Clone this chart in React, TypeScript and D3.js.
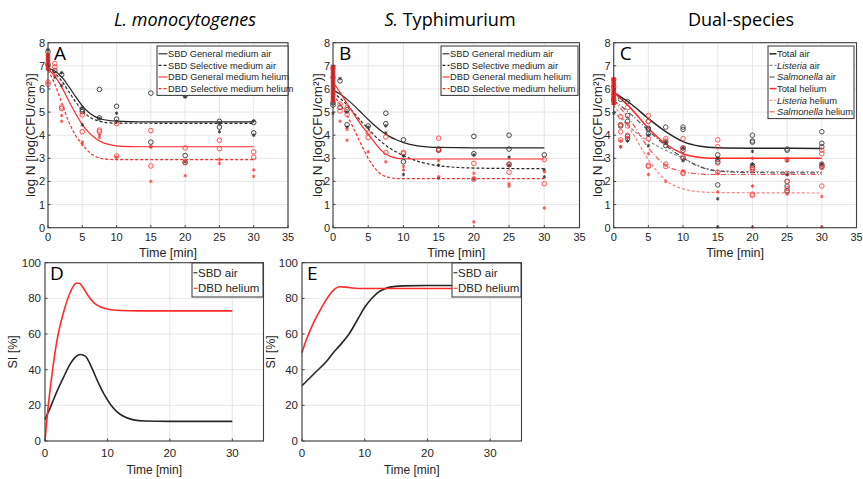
import * as d3 from "d3";

const FONT = "'Liberation Sans', Arial, sans-serif";
const TITLE_FONT = "'Open Sans', 'Noto Sans', sans-serif";
const BLACK = "#262626";
const RED = "#ff2a2a";

// ---------- A: L. monocytogenes ----------
const aSbdGenFit = [[0, 6.9], [1, 6.78], [2, 6.52], [3, 6.12], [4, 5.68], [5, 5.27], [6, 4.97], [7, 4.78], [8, 4.68], [9, 4.63], [10, 4.61], [12, 4.59], [15, 4.58], [30, 4.58]];
const aSbdSelFit = [[0, 6.85], [1, 6.68], [2, 6.35], [3, 5.9], [4, 5.45], [5, 5.07], [6, 4.8], [7, 4.65], [8, 4.57], [9, 4.53], [10, 4.52], [30, 4.51]];
const aDbdGenFit = [[0, 6.85], [1, 6.55], [2, 6.08], [3, 5.5], [4, 4.95], [5, 4.46], [6, 4.1], [7, 3.85], [8, 3.68], [9, 3.59], [10, 3.54], [12, 3.51], [15, 3.5], [30, 3.5]];
const aDbdSelFit = [[0, 6.8], [1, 6.2], [2, 5.4], [3, 4.6], [4, 4.0], [5, 3.6], [6, 3.27], [7, 3.07], [8, 2.98], [9, 2.95], [10, 2.94], [30, 2.94]];

const aSbdGen = [[0, 7.62], [0, 7.05], [1, 6.8], [2, 6.62], [5, 5.1], [5, 5.02], [7.5, 5.98], [7.5, 4.75], [10, 5.25], [10, 4.7], [15, 5.82], [15, 3.7], [20, 5.72], [20, 3.12], [20, 2.82], [25, 4.6], [25, 4.35], [30, 4.55], [30, 4.1]];
const aSbdSel = [[0, 7.7], [1, 6.5], [2, 6.7], [2, 6.15], [5, 5.2], [5, 4.45], [7.5, 4.72], [10, 4.95], [10, 4.6], [15, 3.5], [20, 5.65], [20, 2.85], [25, 4.5], [25, 4.15], [30, 4.62], [30, 4.0]];
const aDbdGen = [[0, 6.3], [0, 6.2], [1, 7.1], [1, 6.95], [2, 5.22], [2, 5.15], [5, 4.88], [5, 4.15], [7.5, 4.22], [7.5, 4.15], [10, 4.5], [10, 3.1], [15, 4.2], [15, 2.67], [20, 3.45], [20, 2.82], [25, 3.78], [25, 3.42], [30, 3.28], [30, 3.05]];
const aDbdSel = [[0, 7.3], [1, 6.6], [2, 4.85], [2, 4.6], [5, 3.6], [5, 3.7], [7.5, 4.0], [7.5, 3.9], [10, 3.05], [15, 2.0], [15, 3.5], [20, 2.25], [20, 2.9], [25, 2.95], [25, 2.78], [30, 2.5], [30, 2.22]];
const aZeroBar = [6.8, 7.55];

// ---------- B: S. Typhimurium ----------
const bSbdGenFit = [[0, 5.95], [1, 5.78], [2, 5.55], [3, 5.28], [4, 4.98], [5, 4.68], [6, 4.4], [7, 4.15], [8, 3.95], [9, 3.8], [10, 3.68], [12, 3.54], [15, 3.47], [20, 3.45], [30, 3.45]];
const bSbdSelFit = [[0, 5.85], [1, 5.6], [2, 5.3], [3, 4.95], [4, 4.6], [5, 4.28], [6, 3.95], [7, 3.68], [8, 3.45], [9, 3.27], [10, 3.12], [12, 2.88], [15, 2.68], [20, 2.58], [25, 2.56], [30, 2.55]];
const bDbdGenFit = [[0, 6.3], [1, 5.85], [2, 5.37], [3, 4.9], [4, 4.45], [5, 4.05], [6, 3.65], [7, 3.3], [8, 3.1], [9, 3.01], [10, 2.98], [12, 2.97], [30, 2.97]];
const bDbdSelFit = [[0, 5.75], [1, 5.35], [2, 4.85], [3, 4.25], [4, 3.6], [5, 3.0], [6, 2.55], [7, 2.28], [8, 2.17], [9, 2.13], [10, 2.12], [30, 2.12]];

const bSbdGen = [[0, 5.4], [0, 5.3], [1, 6.35], [1, 5.2], [2, 5.1], [2, 4.45], [5, 4.4], [7.5, 4.95], [7.5, 4.5], [10, 3.8], [10, 2.85], [15, 3.4], [15, 3.35], [20, 3.95], [20, 3.2], [25, 4.0], [25, 3.4], [25, 2.75], [30, 3.15]];
const bSbdSel = [[0, 5.5], [0, 4.95], [1, 6.45], [2, 5.0], [2, 4.35], [5, 4.35], [7.5, 4.1], [7.5, 4.4], [10, 2.3], [10, 3.1], [15, 2.7], [15, 2.15], [20, 2.1], [20, 3.15], [25, 3.05], [25, 2.7], [30, 2.5], [30, 2.2]];
const bDbdGen = [[0, 6.9], [0, 6.5], [1, 5.05], [1, 5.35], [2, 4.9], [2, 5.2], [5, 3.9], [5, 4.1], [7.5, 3.92], [7.5, 3.25], [10, 3.2], [10, 3.25], [15, 3.87], [15, 3.35], [20, 2.78], [20, 2.1], [25, 2.4], [25, 2.72], [30, 2.95], [30, 1.9]];
const bDbdSel = [[0, 6.0], [1, 4.6], [2, 3.78], [2, 4.25], [5, 3.28], [7.5, 2.85], [10, 2.5], [10, 2.65], [15, 2.2], [15, 2.9], [20, 0.25], [20, 2.15], [20, 2.35], [25, 1.8], [25, 1.9], [30, 0.85], [30, 2.42]];
const bZeroBar = [5.4, 7.05];

// ---------- C: dual-species ----------
const cTotalAirFit = [[0, 5.85], [2.5, 5.35], [5, 4.72], [7.5, 4.15], [10, 3.72], [12.5, 3.52], [15, 3.46], [20, 3.44], [30, 3.43]];
const cListeriaAirFit = [[0, 5.05], [2.5, 4.3], [5, 3.75], [7.5, 3.35], [10, 3.0], [12.5, 2.65], [15, 2.47], [20, 2.42], [30, 2.42]];
const cSalmonellaAirFit = [[0, 5.5], [2.5, 4.9], [5, 4.2], [7.5, 3.55], [10, 3.02], [12.5, 2.62], [15, 2.45], [20, 2.38], [30, 2.37]];
const cTotalHeliumFit = [[0, 5.85], [2.5, 5.15], [5, 4.3], [7.5, 3.62], [10, 3.2], [12.5, 3.04], [15, 3.0], [30, 3.0]];
const cListeriaHeliumFit = [[0, 5.3], [2.5, 4.2], [5, 2.95], [7.5, 2.05], [10, 1.68], [12.5, 1.55], [15, 1.52], [30, 1.5]];
const cSalmonellaHeliumFit = [[0, 5.5], [2.5, 4.6], [5, 3.45], [7.5, 2.7], [10, 2.42], [12.5, 2.32], [15, 2.3], [30, 2.3]];

const cAirCircles = [[0, 5.5], [0, 5.6], [1, 4.45], [1, 4.4], [1, 5.55], [2, 5.45], [2, 4.85], [2, 4.6], [2, 3.85], [2, 3.95], [5, 4.6], [5, 4.3], [5, 4.05], [5, 4.25], [7.5, 4.35], [7.5, 3.7], [7.5, 3.55], [10, 4.35], [10, 4.25], [10, 3.45], [10, 3.35], [10, 3.0], [15, 1.85], [15, 2.85], [15, 2.95], [15, 3.15], [20, 4.0], [20, 3.75], [20, 3.7], [20, 2.7], [20, 2.6], [25, 3.4], [25, 3.35], [25, 2.0], [25, 1.8], [25, 1.6], [30, 4.15], [30, 3.65], [30, 3.5], [30, 2.75], [30, 2.65]];
const cAirDots = [[0, 4.95], [1, 3.5], [2, 3.75], [5, 4.0], [5, 3.55], [7.5, 3.7], [10, 2.9], [10, 3.45], [15, 1.25], [15, 0.03], [15, 3.0], [20, 3.3], [20, 2.75], [25, 2.9], [25, 2.3], [30, 2.75]];
const cHeliumCircles = [[0, 6.4], [0, 6.1], [0, 5.8], [1, 4.8], [1, 4.45], [1, 4.15], [1, 3.8], [2, 5.2], [2, 4.4], [2, 4.0], [5, 4.85], [5, 4.6], [5, 3.85], [5, 2.7], [5, 2.65], [7.5, 3.85], [7.5, 3.75], [7.5, 2.75], [7.5, 2.65], [10, 3.85], [10, 3.45], [10, 3.05], [10, 2.4], [10, 2.35], [15, 3.8], [15, 3.5], [15, 2.8], [15, 2.4], [20, 2.55], [20, 2.5], [20, 1.45], [20, 1.4], [25, 2.95], [25, 2.35], [25, 2.0], [25, 1.7], [25, 1.55], [30, 3.35], [30, 3.2], [30, 2.7], [30, 2.6], [30, 1.8]];
const cHeliumDots = [[0, 6.2], [1, 3.5], [1, 3.75], [2, 4.5], [2, 3.9], [5, 3.2], [5, 2.3], [7.5, 2.0], [10, 2.45], [15, 1.55], [15, 2.35], [20, 1.8], [20, 3.0], [20, 0.03], [25, 1.45], [25, 2.9], [30, 1.35], [30, 0.03]];
const cZeroBar = [5.3, 6.5];

// ---------- D / E: SI ----------
const dSbdAir = [[0, 12], [1, 20], [2, 28.5], [3, 36], [4, 43], [5, 47.5], [5.7, 48.5], [6.5, 47.5], [7.5, 41], [8.5, 33], [9.5, 26], [10.5, 20.5], [11.5, 16.5], [12.5, 14], [14, 12], [16, 11.2], [20, 11], [30, 11]];
const dDbdHelium = [[0, 0], [0.5, 19], [1, 34], [2, 58], [3, 72.5], [4, 83], [5, 88.5], [5.5, 88.5], [6, 86.5], [7, 81], [8, 77], [9, 75], [10, 74], [12, 73.2], [15, 73], [30, 73]];
const eSbdAir = [[0, 31], [2, 38], [4, 45], [5, 49.5], [6, 53.5], [7.5, 60], [9, 69], [10, 75], [11, 79.5], [12, 83], [13, 85], [14, 86.3], [16, 87], [20, 87.2], [30, 87.2]];
const eDbdHelium = [[0, 49.5], [0.5, 55], [1, 59.5], [2, 67.5], [3, 74], [4, 80], [5, 84.5], [6, 86.5], [7, 86.3], [8, 85.8], [10, 85.5], [30, 85.5]];

const logTicksX = [0, 5, 10, 15, 20, 25, 30, 35];
const logTicksY = [0, 1, 2, 3, 4, 5, 6, 7, 8];
const siTicksX = [0, 10, 20, 30];
const siTicksY = [0, 20, 40, 60, 80, 100];

const labelsAB = ["SBD General medium air", "SBD Selective medium air", "DBD General medium helium", "DBD Selective medium helium"];
const labelsC = [
  [{ t: "Total air" }],
  [{ t: "Listeria", i: true }, { t: " air" }],
  [{ t: "Salmonella", i: true }, { t: " air" }],
  [{ t: "Total helium" }],
  [{ t: "Listeria", i: true }, { t: " helium" }],
  [{ t: "Salmonella", i: true }, { t: " helium" }],
];
const labelsSI = ["SBD air", "DBD helium"];

const asterisk = d3.symbol().type(d3.symbolAsterisk).size(9)();

function Legend({ x, y, w, rowH, items, fontSize, sample }) {
  const h = rowH * items.length + 3;
  return (
    <g>
      <rect x={x} y={y} width={w} height={h} fill="#fff" stroke="#333" strokeWidth={1} />
      {items.map((it, i) => {
        const cy = y + 2 + rowH * (i + 0.5);
        return (
          <g key={i}>
            <line x1={x + 1.5} x2={x + 1.5 + sample} y1={cy} y2={cy} stroke={it.color} strokeWidth={it.width || 1.1} strokeDasharray={it.dash} />
            <text x={x + 2 + sample} y={cy + fontSize * 0.36} fontSize={fontSize} fontFamily={FONT} fill="#262626">
              {typeof it.label === "string"
                ? it.label
                : it.label.map((s, k) => (
                    <tspan key={k} fontStyle={s.i ? "italic" : "normal"}>{s.t}</tspan>
                  ))}
            </text>
          </g>
        );
      })}
    </g>
  );
}

function LogPanel({ left, right, top, bottom, letter, fits, circles, dots, zeroBar, legend, yLabelX }) {
  const x = d3.scaleLinear().domain([0, 35]).range([left, right]);
  const y = d3.scaleLinear().domain([0, 8]).range([bottom, top]);
  const line = d3.line().x((d) => x(d[0])).y((d) => y(d[1])).curve(d3.curveMonotoneX);
  return (
    <g>
      {logTicksX.map((t) => (
        <line key={"gx" + t} x1={x(t)} x2={x(t)} y1={top} y2={bottom} stroke="#e3e3e3" strokeWidth={0.9} />
      ))}
      {logTicksY.map((t) => (
        <line key={"gy" + t} x1={left} x2={right} y1={y(t)} y2={y(t)} stroke="#e3e3e3" strokeWidth={0.9} />
      ))}
      {fits.map((f, i) => (
        <path key={"f" + i} d={line(f.data)} fill="none" stroke={f.color} strokeWidth={f.width || 1.2} strokeDasharray={f.dash} />
      ))}
      {circles.map((c, i) =>
        c.data.map((d, k) => (
          <circle key={"c" + i + "-" + k} cx={x(d[0])} cy={y(d[1])} r={2.3} fill="none" stroke={c.color} strokeWidth={0.9} />
        ))
      )}
      {dots.map((c, i) =>
        c.data.map((d, k) => (
          <path key={"d" + i + "-" + k} d={asterisk} transform={`translate(${x(d[0])},${y(d[1])})`} fill="none" stroke={c.color} strokeWidth={0.9} />
        ))
      )}
      <line x1={x(0)} x2={x(0)} y1={y(zeroBar[0])} y2={y(zeroBar[1])} stroke={RED} strokeWidth={4.5} />
      <rect x={left} y={top} width={right - left} height={bottom - top} fill="none" stroke="#404040" strokeWidth={1.1} />
      {logTicksX.map((t) => (
        <g key={"tx" + t}>
          <line x1={x(t)} x2={x(t)} y1={bottom} y2={bottom - 2.5} stroke="#404040" />
          <text x={x(t)} y={bottom + 13} textAnchor="middle" fontSize={11} fontFamily={FONT} fill="#262626">{t}</text>
        </g>
      ))}
      {logTicksY.map((t) => (
        <g key={"ty" + t}>
          <line x1={left} x2={left + 2.5} y1={y(t)} y2={y(t)} stroke="#404040" />
          <text x={left - 3} y={y(t) + 4} textAnchor="end" fontSize={11} fontFamily={FONT} fill="#262626">{t}</text>
        </g>
      ))}
      <text x={(left + right) / 2} y={bottom + 29} textAnchor="middle" fontSize={12.5} fontFamily={FONT} fill="#262626">Time [min]</text>
      <text transform={`translate(${yLabelX},${(top + bottom) / 2}) rotate(-90)`} textAnchor="middle" fontSize={13.5} fontFamily={FONT} fill="#262626">
        log N [log(CFU/cm²)]
      </text>
      <Legend {...legend} />
      <text x={left + 6} y={top + 17} fontSize={19} fontFamily={TITLE_FONT} fill="#000">{letter}</text>
    </g>
  );
}

function SIPanel({ left, right, top, bottom, letter, series, legend, yLabelX }) {
  const x = d3.scaleLinear().domain([0, 35]).range([left, right]);
  const y = d3.scaleLinear().domain([0, 100]).range([bottom, top]);
  const line = d3.line().x((d) => x(d[0])).y((d) => y(d[1])).curve(d3.curveMonotoneX);
  return (
    <g>
      {siTicksX.map((t) => (
        <line key={"gx" + t} x1={x(t)} x2={x(t)} y1={top} y2={bottom} stroke="#e3e3e3" strokeWidth={0.9} />
      ))}
      {siTicksY.map((t) => (
        <line key={"gy" + t} x1={left} x2={right} y1={y(t)} y2={y(t)} stroke="#e3e3e3" strokeWidth={0.9} />
      ))}
      {series.map((s, i) => (
        <path key={"s" + i} d={line(s.data)} fill="none" stroke={s.color} strokeWidth={1.6} />
      ))}
      <rect x={left} y={top} width={right - left} height={bottom - top} fill="none" stroke="#404040" strokeWidth={1.1} />
      {siTicksX.map((t) => (
        <g key={"tx" + t}>
          <line x1={x(t)} x2={x(t)} y1={bottom} y2={bottom - 2.5} stroke="#404040" />
          <text x={x(t)} y={bottom + 16} textAnchor="middle" fontSize={11.5} fontFamily={FONT} fill="#262626">{t}</text>
        </g>
      ))}
      {siTicksY.map((t) => (
        <g key={"ty" + t}>
          <line x1={left} x2={left + 2.5} y1={y(t)} y2={y(t)} stroke="#404040" />
          <text x={left - 4} y={y(t) + 4} textAnchor="end" fontSize={11.5} fontFamily={FONT} fill="#262626">{t}</text>
        </g>
      ))}
      <text x={(left + right) / 2} y={bottom + 33} textAnchor="middle" fontSize={12} fontFamily={FONT} fill="#262626">Time [min]</text>
      <text transform={`translate(${yLabelX},${(top + bottom) / 2}) rotate(-90)`} textAnchor="middle" fontSize={12.5} fontFamily={FONT} fill="#262626">
        SI [%]
      </text>
      <Legend {...legend} />
      <text x={left + 5} y={top + 17} fontSize={19} fontFamily={TITLE_FONT} fill="#000">{letter}</text>
    </g>
  );
}

const abLegendItems = (labels) => [
  { label: labels[0], color: BLACK },
  { label: labels[1], color: BLACK, dash: "3,2" },
  { label: labels[2], color: RED },
  { label: labels[3], color: RED, dash: "3,2" },
];

export default function App() {
  return (
    <svg width={863} height={479} style={{ position: "absolute", left: 0, top: 0, background: "#fff" }}>
      <text x={185} y={26} textAnchor="middle" fontSize={18} fontStyle="italic" fontFamily={TITLE_FONT} fill="#000">L. monocytogenes</text>
      <text x={450} y={26} textAnchor="middle" fontSize={18} fontFamily={TITLE_FONT} fill="#000">
        <tspan fontStyle="italic">S.</tspan> Typhimurium
      </text>
      <text x={741} y={26} textAnchor="middle" fontSize={18} fontFamily={TITLE_FONT} fill="#000">Dual-species</text>

      <LogPanel
        left={48} right={288} top={42.7} bottom={227.7} letter="A" yLabelX={35} zeroBar={aZeroBar}
        fits={[
          { data: aSbdGenFit, color: BLACK },
          { data: aSbdSelFit, color: BLACK, dash: "3,2" },
          { data: aDbdGenFit, color: RED },
          { data: aDbdSelFit, color: RED, dash: "3,2" },
        ]}
        circles={[{ data: aSbdGen, color: "#333" }, { data: aDbdGen, color: "#ff4040" }]}
        dots={[{ data: aSbdSel, color: "#333" }, { data: aDbdSel, color: "#ff4040" }]}
        legend={{ x: 157, y: 46, w: 131, rowH: 11.6, fontSize: 9.3, sample: 9, items: abLegendItems(labelsAB) }}
      />
      <LogPanel
        left={333} right={579.5} top={42.7} bottom={227.7} letter="B" yLabelX={321.5} zeroBar={bZeroBar}
        fits={[
          { data: bSbdGenFit, color: BLACK },
          { data: bSbdSelFit, color: BLACK, dash: "3,2" },
          { data: bDbdGenFit, color: RED },
          { data: bDbdSelFit, color: RED, dash: "3,2" },
        ]}
        circles={[{ data: bSbdGen, color: "#333" }, { data: bDbdGen, color: "#ff4040" }]}
        dots={[{ data: bSbdSel, color: "#333" }, { data: bDbdSel, color: "#ff4040" }]}
        legend={{ x: 441, y: 46, w: 137, rowH: 11.6, fontSize: 9.3, sample: 7, items: abLegendItems(labelsAB) }}
      />
      <LogPanel
        left={613.7} right={856.5} top={42.7} bottom={227.7} letter="C" yLabelX={602} zeroBar={cZeroBar}
        fits={[
          { data: cListeriaAirFit, color: "#8a8a8a", dash: "3,2" },
          { data: cSalmonellaAirFit, color: "#555", dash: "5,2,1,2" },
          { data: cTotalAirFit, color: BLACK, width: 1.5 },
          { data: cListeriaHeliumFit, color: "#ff8080", dash: "3,2" },
          { data: cSalmonellaHeliumFit, color: "#ff5050", dash: "5,2,1,2" },
          { data: cTotalHeliumFit, color: RED, width: 1.5 },
        ]}
        circles={[{ data: cAirCircles, color: "#444" }, { data: cHeliumCircles, color: "#ff4a4a" }]}
        dots={[{ data: cAirDots, color: "#333" }, { data: cHeliumDots, color: "#ff4040" }]}
        legend={{
          x: 768, y: 46, w: 86, rowH: 11.6, fontSize: 9.3, sample: 7,
          items: [
            { label: labelsC[0], color: BLACK, width: 1.5 },
            { label: labelsC[1], color: "#8a8a8a", dash: "3,2" },
            { label: labelsC[2], color: "#555", dash: "5,2,1,2" },
            { label: labelsC[3], color: RED, width: 1.5 },
            { label: labelsC[4], color: "#ff8080", dash: "3,2" },
            { label: labelsC[5], color: "#ff5050", dash: "5,2,1,2" },
          ],
        }}
      />
      <SIPanel
        left={45} right={263.5} top={262.7} bottom={441} letter="D" yLabelX={17}
        series={[{ data: dSbdAir, color: BLACK }, { data: dDbdHelium, color: RED }]}
        legend={{ x: 192, y: 263, w: 71, rowH: 15.5, fontSize: 11.5, sample: 4, items: [{ label: labelsSI[0], color: BLACK }, { label: labelsSI[1], color: RED }] }}
      />
      <SIPanel
        left={302} right={521.5} top={262.7} bottom={441} letter="E" yLabelX={275}
        series={[{ data: eSbdAir, color: BLACK }, { data: eDbdHelium, color: RED }]}
        legend={{ x: 452, y: 263, w: 69, rowH: 15.5, fontSize: 11.5, sample: 4, items: [{ label: labelsSI[0], color: BLACK }, { label: labelsSI[1], color: RED }] }}
      />
    </svg>
  );
}
